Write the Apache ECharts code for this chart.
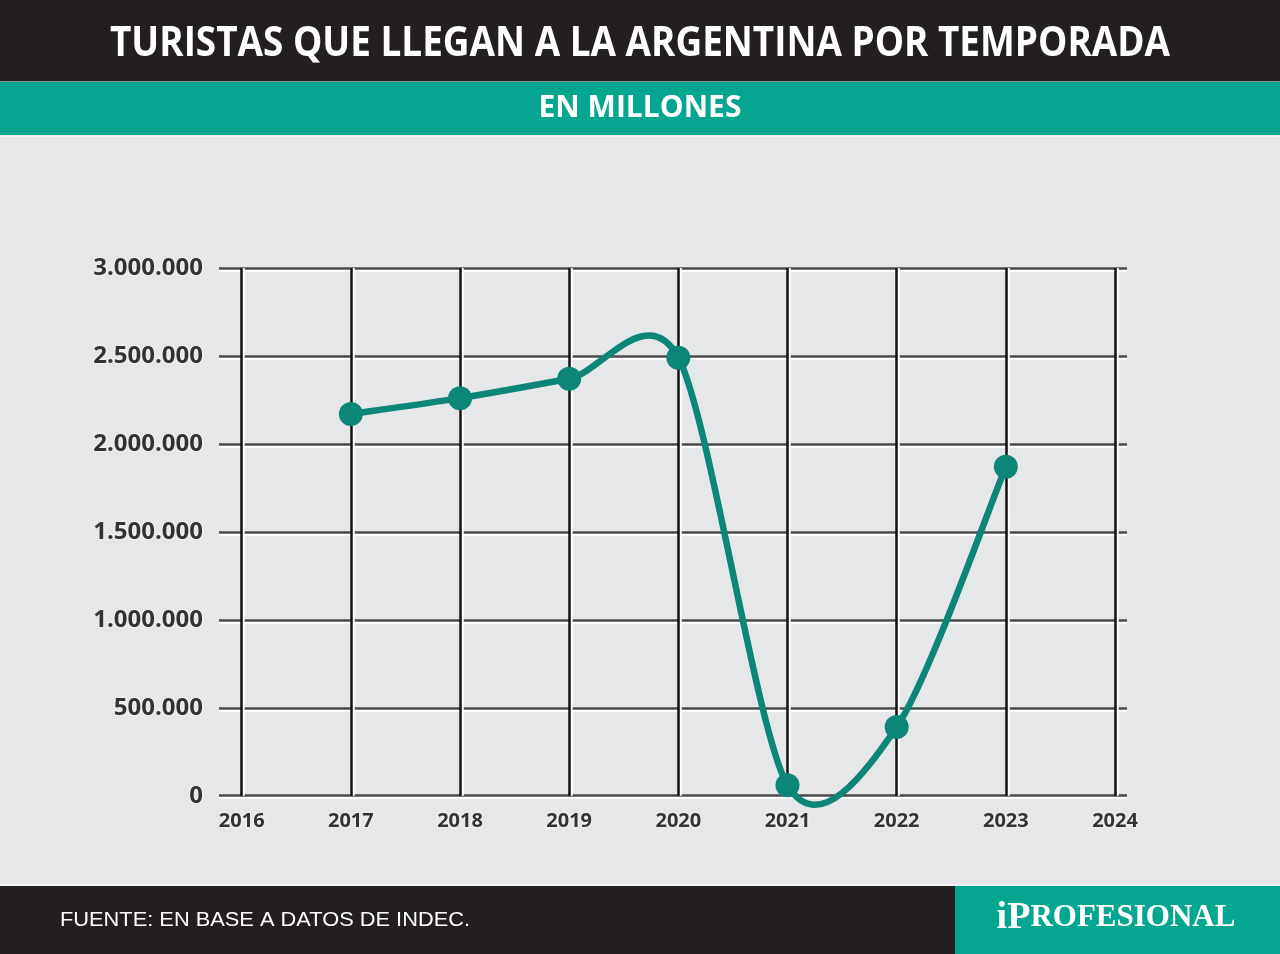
<!DOCTYPE html>
<html>
<head>
<meta charset="utf-8">
<script src="https://cdn.jsdelivr.net/npm/echarts@6/dist/echarts.min.js"></script>
<style>
html,body{margin:0;padding:0;background:#e6e7e9;}
#chart{width:1280px;height:954px;}
</style>
</head>
<body>
<div id="chart"></div>
<script>
// ---- data ----
const years = ['2016','2017','2018','2019','2020','2021','2022','2023','2024'];
const tourists = [null, 2170000, 2260000, 2370000, 2490000, 60000, 390000, 1870000, null];
const yMin = 0, yMax = 3000000, yStep = 500000;
const titleText = 'TURISTAS QUE LLEGAN A LA ARGENTINA POR TEMPORADA';
const subtitleText = 'EN MILLONES';
const sourceText = 'FUENTE: EN BASE A DATOS DE INDEC.';

// points that have a value: [categoryIndex, value]
const points = years.map((y, i) => [i, tourists[i]]).filter(p => p[1] != null);

// ---- helpers ----
const mctx = document.createElement('canvas').getContext('2d');
function fitScale(text, font, target) {
  mctx.font = font;
  return target / mctx.measureText(text).width;
}
function fmt(v) { return String(v).replace(/\B(?=(\d{3})+(?!\d))/g, '.'); }

const titleFont = 'bold 42px "Open Sans"';
const subFont = 'bold 31px "Open Sans"';
const srcFont = '21px "Liberation Sans"';
const titleScale = fitScale(titleText, titleFont, 1060);
const subScale = fitScale(subtitleText, subFont, 203);
const srcScale = fitScale(sourceText, srcFont, 410);

const BLACK = '#231f20';
const TEAL = '#05a68f';
const LINE = '#0b8677';
const TENSION = 1 / 7;

// Catmull-Rom style curve through pixel coordinates from the axes
function renderCurve(params, api) {
  if (params.dataIndex !== 0) return null;
  const c = points.map(p => api.coord(p));
  let d = 'M' + c[0][0] + ' ' + c[0][1];
  for (let i = 0; i < c.length - 1; i++) {
    const p0 = c[Math.max(i - 1, 0)], p1 = c[i], p2 = c[i + 1], p3 = c[Math.min(i + 2, c.length - 1)];
    const c1x = p1[0] + (p2[0] - p0[0]) * TENSION, c1y = p1[1] + (p2[1] - p0[1]) * TENSION;
    const c2x = p2[0] - (p3[0] - p1[0]) * TENSION, c2y = p2[1] - (p3[1] - p1[1]) * TENSION;
    d += ' C' + c1x + ' ' + c1y + ' ' + c2x + ' ' + c2y + ' ' + p2[0] + ' ' + p2[1];
  }
  return {
    type: 'path',
    shape: { pathData: d },
    style: { fill: null, stroke: LINE, lineWidth: 6.5, lineCap: 'round', lineJoin: 'round' }
  };
}

const chart = echarts.init(document.getElementById('chart'));
chart.setOption({
  backgroundColor: '#e6e7e9',
  animation: false,
  graphic: [
    { type: 'rect', left: 0, top: 0, shape: { width: 1280, height: 81 }, style: { fill: BLACK } },
    { type: 'rect', left: 0, top: 81, shape: { width: 1280, height: 1 }, style: { fill: '#8a8a8a' } },
    { type: 'rect', left: 0, top: 82, shape: { width: 1280, height: 53 }, style: { fill: TEAL } },
    { type: 'rect', left: 0, top: 135, shape: { width: 1280, height: 2 }, style: { fill: '#f2f2f2' } },
    { type: 'text', x: 640, y: 44, scaleX: titleScale, style: { text: titleText, font: titleFont, fill: '#ffffff', align: 'center', verticalAlign: 'middle' } },
    { type: 'text', x: 640, y: 108, scaleX: subScale, style: { text: subtitleText, font: subFont, fill: '#ffffff', align: 'center', verticalAlign: 'middle' } },
    { type: 'rect', left: 0, top: 884, shape: { width: 1280, height: 2 }, style: { fill: '#f4f4f4' } },
    { type: 'rect', left: 0, top: 886, shape: { width: 955, height: 68 }, style: { fill: BLACK } },
    { type: 'rect', left: 955, top: 886, shape: { width: 325, height: 68 }, style: { fill: TEAL } },
    { type: 'text', x: 60, y: 920, scaleX: srcScale, style: { text: sourceText, font: srcFont, fill: '#ffffff', align: 'left', verticalAlign: 'middle' } },
    { type: 'text', x: 1116, y: 918, style: {
        text: '{a|iP}{b|ROFESIONAL}', align: 'center', verticalAlign: 'middle',
        rich: {
          a: { fontFamily: 'Liberation Serif', fontWeight: 'bold', fontSize: 38, fill: '#ffffff', color: '#ffffff' },
          b: { fontFamily: 'Liberation Serif', fontWeight: 'bold', fontSize: 31, fill: '#ffffff', color: '#ffffff' }
        } } }
  ],
  grid: [
    { left: 241.7, right: 165, top: 268, bottom: 158.3 },
    { left: 219, right: 153, top: 268, bottom: 158.3 }
  ],
  xAxis: [
    {
      gridIndex: 0, type: 'category', data: years, boundaryGap: false,
      axisLine: { show: false }, axisTick: { show: false },
      axisLabel: { margin: 16, fontFamily: 'Open Sans', fontWeight: 'bold', fontSize: 20, color: '#333333',
        textShadowColor: 'rgba(255,255,255,0.9)', textShadowBlur: 3 },
      splitLine: { show: true, lineStyle: { color: '#111111', width: 2.5, shadowColor: '#ffffff', shadowOffsetX: 2 } },
      z: 3
    },
    { gridIndex: 1, type: 'value', min: 0, max: 1, show: false }
  ],
  yAxis: [
    { gridIndex: 0, type: 'value', min: yMin, max: yMax, interval: yStep, show: false, splitLine: { show: false } },
    {
      gridIndex: 1, type: 'value', min: yMin, max: yMax, interval: yStep,
      axisLine: { show: false }, axisTick: { show: false },
      axisLabel: { margin: 16, formatter: fmt, fontFamily: 'Open Sans', fontWeight: 'bold', fontSize: 24, color: '#333333',
        textShadowColor: 'rgba(255,255,255,0.9)', textShadowBlur: 3 },
      splitLine: { show: true, lineStyle: { color: '#4a4a4a', width: 2.5, shadowColor: '#ffffff', shadowOffsetY: 2 } },
      z: 2
    }
  ],
  series: [
    {
      type: 'custom', xAxisIndex: 0, yAxisIndex: 0, data: points,
      renderItem: renderCurve, clip: false, z: 9, silent: true
    },
    {
      type: 'scatter', xAxisIndex: 0, yAxisIndex: 0, data: points,
      symbol: 'circle', symbolSize: 24, z: 10,
      itemStyle: { color: LINE, opacity: 1 }
    }
  ]
});
</script>
</body>
</html>
